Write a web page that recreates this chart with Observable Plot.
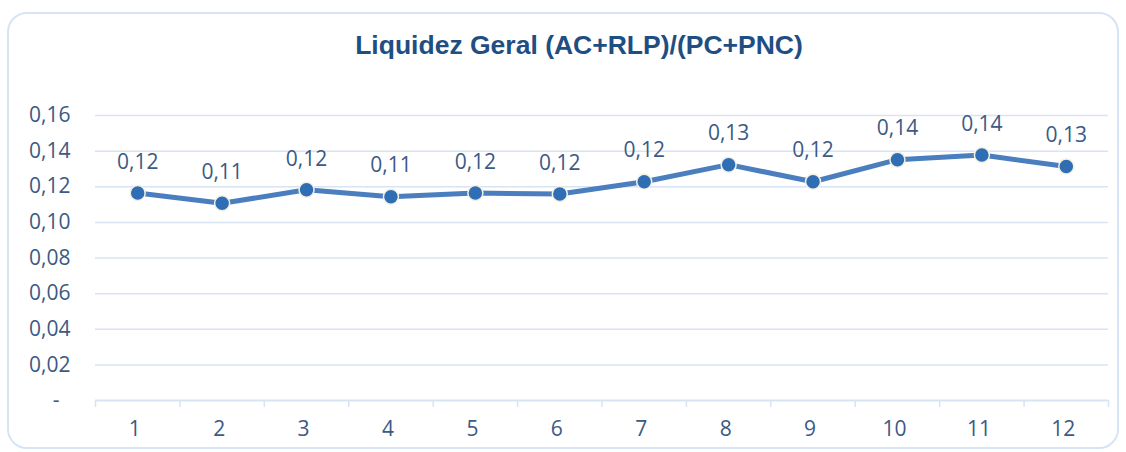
<!DOCTYPE html>
<html>
<head>
<meta charset="utf-8">
<script src="https://cdn.jsdelivr.net/npm/d3@7"></script>
<script src="https://cdn.jsdelivr.net/npm/@observablehq/plot@0.6"></script>
<style>
  html, body { margin: 0; padding: 0; background: #ffffff; }
  #wrap { position: relative; width: 1126px; height: 452px; overflow: hidden; background: #fff; }
  #card { position: absolute; left: 7px; top: 12px; width: 1108px; height: 433px;
          border: 2px solid #D6E4F5; border-radius: 20px; background: #fff; }
  #title { position: absolute; top: 29px; left: 0; width: 1126px; padding-left: 32px; box-sizing: border-box;
           text-align: center; font-family: "Liberation Sans", Arial, sans-serif; font-weight: bold;
           font-size: 26.5px; line-height: 32px; color: #1F4E82; }
  #chart { position: absolute; left: 0; top: 75px; }
</style>
</head>
<body>
<div id="wrap">
  <div id="card"></div>
  <div id="title">Liquidez Geral (AC+RLP)/(PC+PNC)</div>
  <div id="chart"></div>
</div>
<script>
const months = [1, 2, 3, 4, 5, 6, 7, 8, 9, 10, 11, 12];
const values = [0.1165, 0.1107, 0.1183, 0.1144, 0.1165, 0.1159, 0.1228, 0.1324, 0.1228, 0.1352, 0.1378, 0.1314];
const yTicks = [0, 0.02, 0.04, 0.06, 0.08, 0.10, 0.12, 0.14, 0.16];

const data = months.map((m, i) => ({month: m, value: values[i]}));
const bounds = [months[0] - 0.5, ...months.map(m => m + 0.5)];
const fmt = d => d === 0 ? "-\u00a0\u00a0" : d.toFixed(2).replace(".", ",");
const lbl = d => d.value.toFixed(2).replace(".", ",");

const textColor = "#3B5A84";
const gridColor = "#D9E4F2";

const chart = Plot.plot({
  width: 1126,
  height: 377,
  marginTop: 40,
  marginBottom: 52,
  marginLeft: 95,
  marginRight: 18,
  x: {type: "linear", domain: [bounds[0], bounds[bounds.length - 1]]},
  y: {domain: [0, 0.16]},
  style: {fontFamily: "'Open Sans', sans-serif", fontSize: "21px", color: textColor, background: "none"},
  marks: [
    Plot.ruleY(yTicks.filter(d => d > 0), {stroke: gridColor, strokeWidth: 1.5}),
    Plot.ruleY([0], {stroke: gridColor, strokeWidth: 2}),
    Plot.axisY({ticks: yTicks, tickSize: 0, tickPadding: 25, tickFormat: fmt, fill: textColor, label: null}),
    Plot.axisX({ticks: bounds, tickSize: 7, tickFormat: () => "", stroke: gridColor, strokeWidth: 1.5, label: null}),
    Plot.axisX({ticks: months, tickSize: 0, tickPadding: 21, dx: -3, tickFormat: d => String(d), fill: textColor, label: null}),
    Plot.line(data, {x: "month", y: "value", stroke: "#4A7EBF", strokeWidth: 5}),
    Plot.dot(data, {x: "month", y: "value", r: 7.5, fill: "#2F6DB5", stroke: "#F3F0E2", strokeWidth: 1.5}),
    Plot.text(data, {x: "month", y: "value", text: lbl, dy: -31, fill: textColor})
  ]
});
document.getElementById("chart").appendChild(chart);
</script>
</body>
</html>
